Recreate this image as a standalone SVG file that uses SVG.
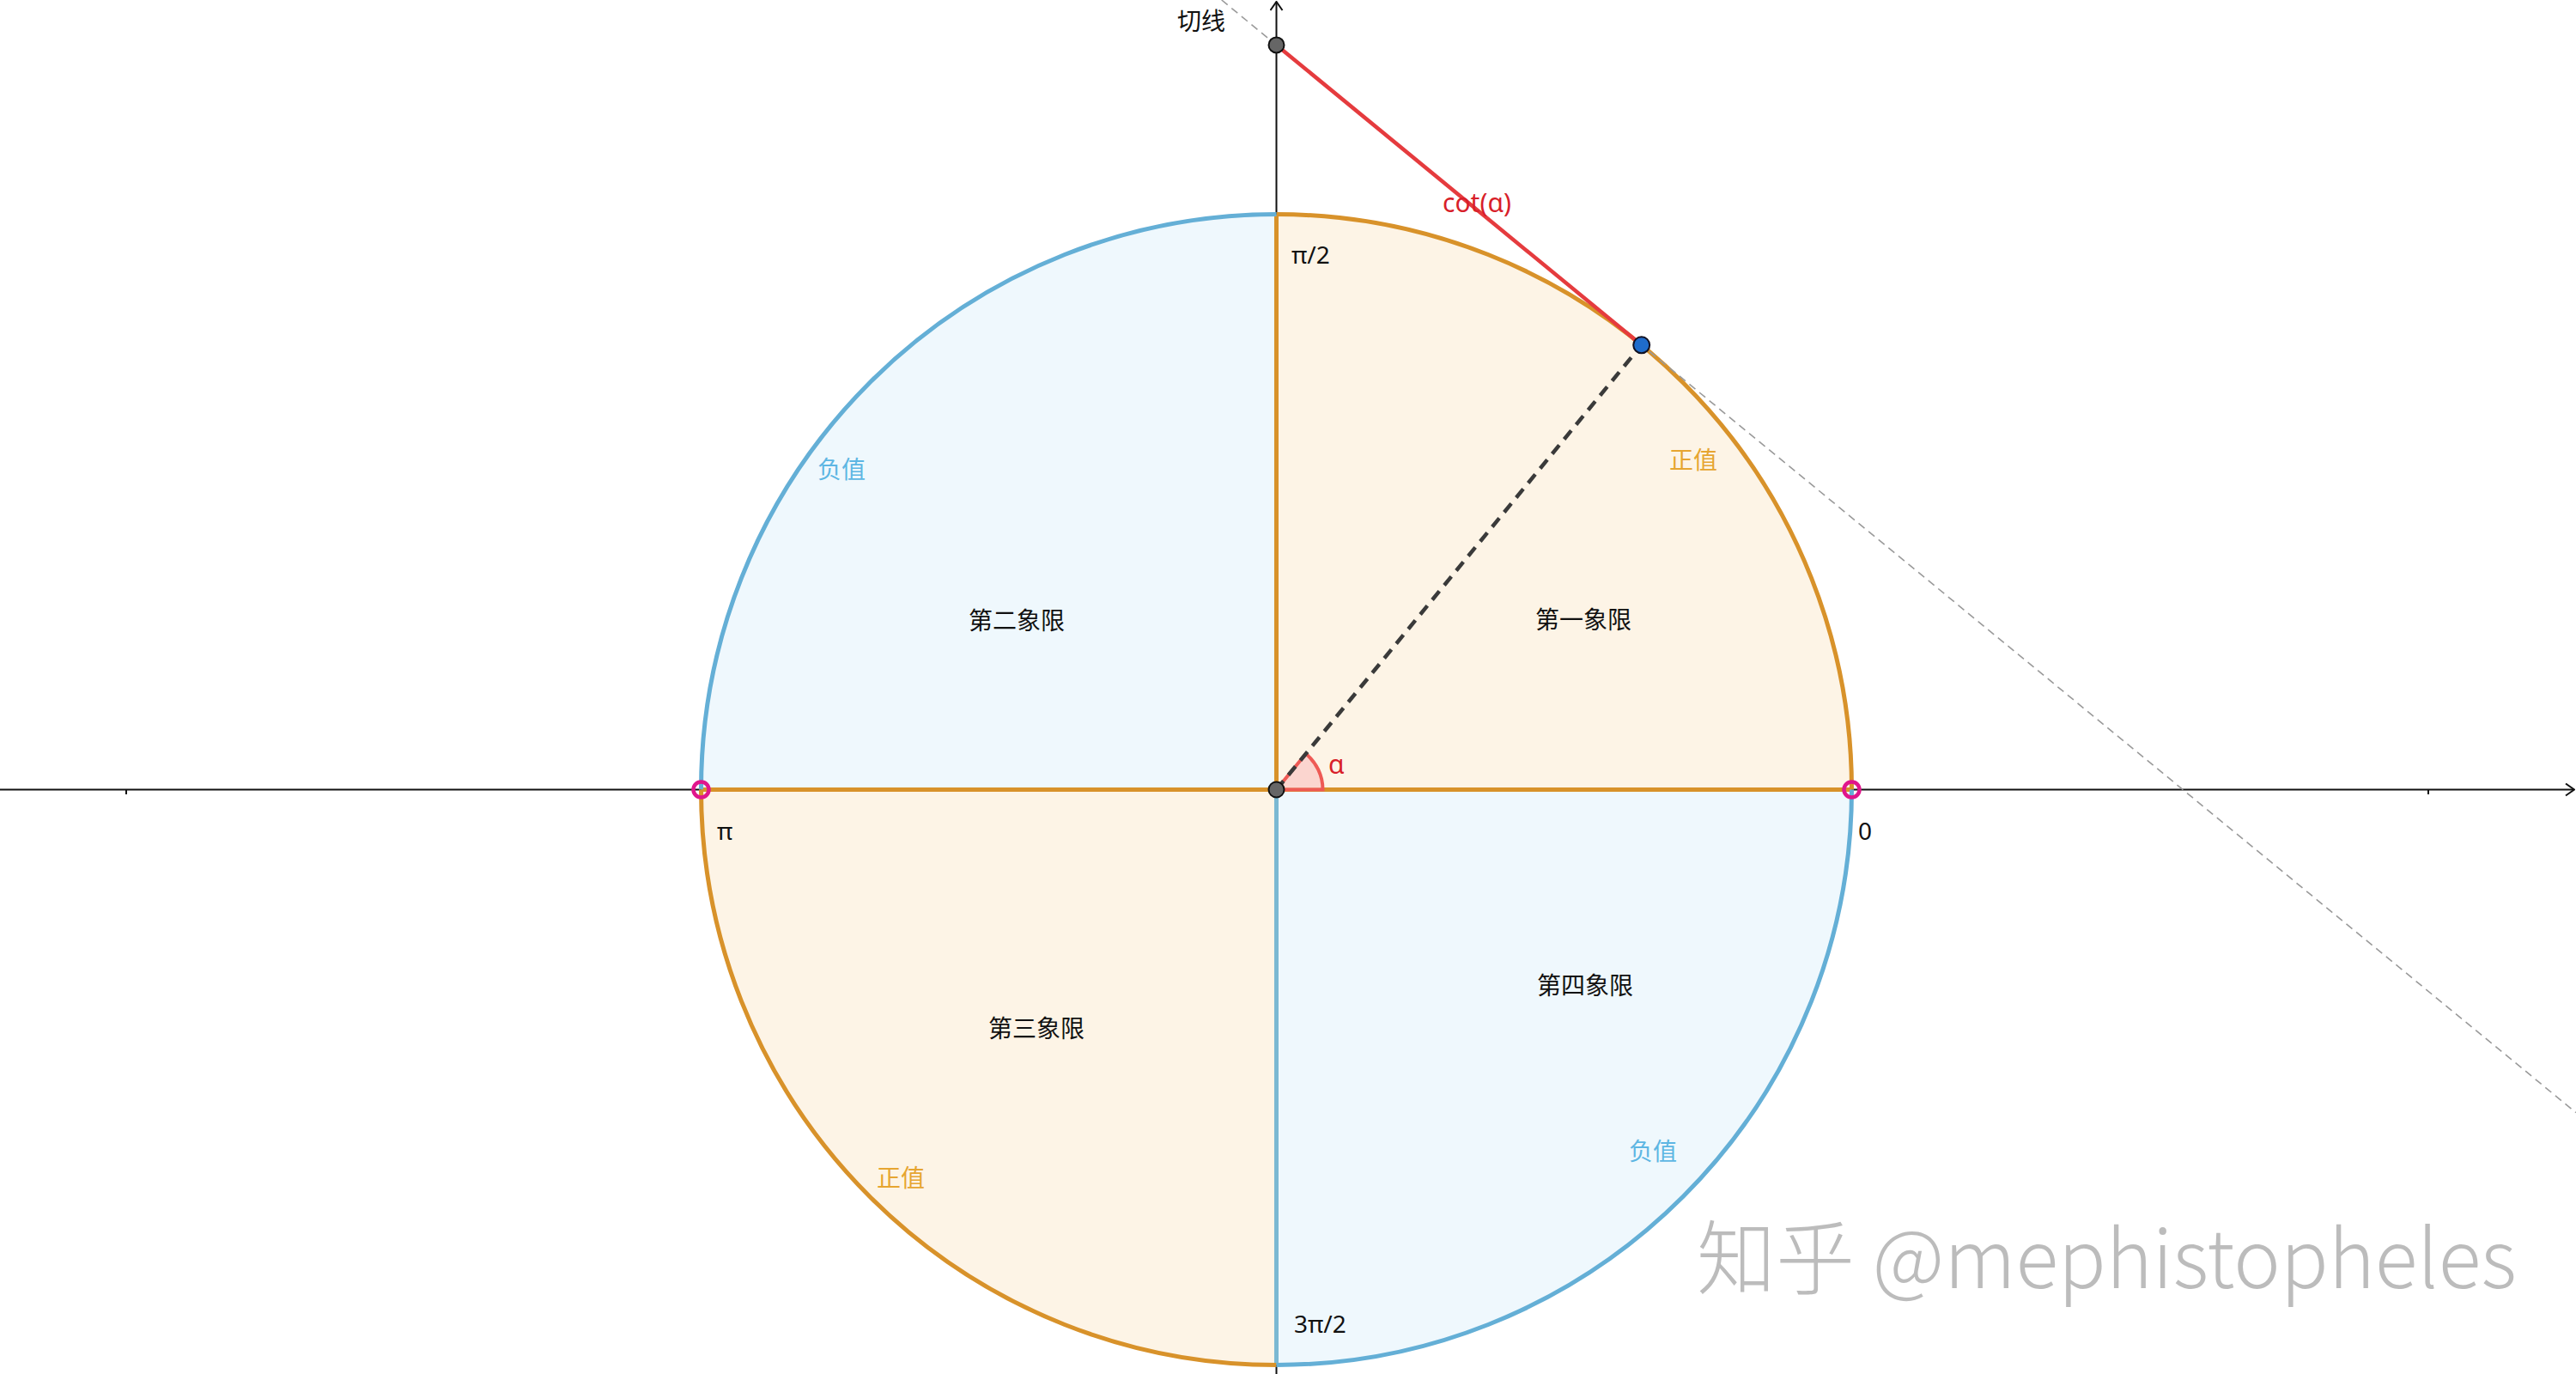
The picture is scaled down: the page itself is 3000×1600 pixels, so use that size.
<svg xmlns="http://www.w3.org/2000/svg" width="3000" height="1600" viewBox="0 0 3000 1600">
<style>
.axis{stroke:#111;stroke-width:2;fill:none}
.or{stroke:#d8922a;stroke-width:5;fill:none}
.bl{stroke:#64afd6;stroke-width:5;fill:none}
.blv{stroke:#7ab8d2;stroke-width:5;fill:none}
.t{font-family:"Noto Sans","Noto Sans CJK SC",sans-serif;font-size:28px;fill:#111}
.c{font-family:"Noto Sans CJK SC","Noto Sans",sans-serif;font-size:28px;fill:#111;text-anchor:middle}
.pos{fill:#e6a531}
.neg{fill:#5db6e3}
.ring{fill:none;stroke:#e0168c;stroke-width:4.5}
</style>
<defs>
<marker id="arr" viewBox="0 0 12 16" refX="11" refY="8" markerWidth="12" markerHeight="16" markerUnits="userSpaceOnUse" orient="auto">
<path d="M1,1 L11,8 L1,15" fill="none" stroke="#111" stroke-width="2"/>
</marker>
</defs>
<rect width="3000" height="1600" fill="#fff"/>
<g id="quadrants">
<path id="q1" d="M1486.5,919.5 L2156.5,919.5 A670,670 0 0 0 1486.5,249.5 Z" fill="#fdf4e6"/>
<path id="q2" d="M1486.5,919.5 L1486.5,249.5 A670,670 0 0 0 816.5,919.5 Z" fill="#eff8fd"/>
<path id="q3" d="M1486.5,919.5 L816.5,919.5 A670,670 0 0 0 1486.5,1589.5 Z" fill="#fdf4e6"/>
<path id="q4" d="M1486.5,919.5 L1486.5,1589.5 A670,670 0 0 0 2156.5,919.5 Z" fill="#eff8fd"/>
</g>
<g id="axes">
<line class="axis" x1="0" y1="919.5" x2="2998" y2="919.5" marker-end="url(#arr)"/>
<line class="axis" x1="1486.5" y1="1600" x2="1486.5" y2="2" marker-end="url(#arr)"/>
<line class="axis" x1="147" y1="919.5" x2="147" y2="925"/>
<line class="axis" x1="2828" y1="919.5" x2="2828" y2="925"/>
</g>
<g id="connectors">
<line class="or" x1="816.5" y1="919.5" x2="2156.5" y2="919.5"/>
<line class="or" x1="1486.5" y1="919.5" x2="1486.5" y2="249.5"/>
<line class="blv" x1="1486.5" y1="919.5" x2="1486.5" y2="1589.5"/>
<path class="or" d="M2156.5,919.5 A670,670 0 0 0 1486.5,249.5"/>
<path class="bl" d="M1486.5,249.5 A670,670 0 0 0 816.5,919.5"/>
<path class="or" d="M816.5,919.5 A670,670 0 0 0 1486.5,1589.5"/>
<path class="bl" d="M1486.5,1589.5 A670,670 0 0 0 2156.5,919.5"/>
<line id="tangent" x1="1422.7" y1="0" x2="3000" y2="1295.6" stroke="#9a9a9a" stroke-width="1.6" stroke-dasharray="9,6"/>
<line id="cot" x1="1486.5" y1="52.4" x2="1911.7" y2="401.8" stroke="#e53b3e" stroke-width="4.5"/>
<path id="angle" d="M1486.5,919.5 L1540.5,919.5 A54,54 0 0 0 1520.8,877.8 Z" fill="#f9c8c4" fill-opacity="0.7" stroke="#ee5a55" stroke-width="4"/>
<line id="radius" x1="1486.5" y1="919.5" x2="1911.7" y2="401.8" stroke="#3a3a3a" stroke-width="4.5" stroke-dasharray="13,9"/>
</g>
<g id="points">
<circle id="O" cx="1486.5" cy="919.5" r="9" fill="#666" stroke="#111" stroke-width="2"/>
<circle id="C" cx="1486.5" cy="52.4" r="9" fill="#666" stroke="#111" stroke-width="2"/>
<circle id="P" cx="1911.7" cy="401.8" r="9.5" fill="#1f6ccb" stroke="#112" stroke-width="2"/>
<circle id="A" class="ring" cx="816.5" cy="919.5" r="9"/>
<circle id="B" class="ring" cx="2156.5" cy="919.5" r="9"/>
</g>
<g id="labels">
<text class="c" x="1844" y="732">第一象限</text>
<text class="c" x="1184" y="733">第二象限</text>
<text class="c" x="1207" y="1208">第三象限</text>
<text class="c" x="1846" y="1158">第四象限</text>
<text class="c pos" x="1972" y="546">正值</text>
<text class="c neg" x="980" y="557">负值</text>
<text class="c pos" x="1049" y="1382">正值</text>
<text class="c neg" x="1925" y="1351">负值</text>
<text class="c" x="1399" y="35">切线</text>
<text class="t" x="1504" y="307">π/2</text>
<text class="t" x="835" y="978">π</text>
<text class="t" x="2164" y="978">0</text>
<text class="t" x="1507" y="1552">3π/2</text>
<text class="t" x="1680" y="247" style="fill:#d81f2a;font-size:30px">cot(α)</text>
<text class="t" x="1547" y="901" style="fill:#d81f2a;font-size:30px">α</text>
</g>
<g id="watermark" font-family="Noto Sans CJK SC,Noto Sans,sans-serif" font-size="94" font-weight="300">
<text x="1973" y="1499" fill="#ffffff" textLength="955" lengthAdjust="spacingAndGlyphs">知乎 @mephistopheles</text>
<text x="1976" y="1500" fill="#b5b5b5" fill-opacity="0.9" textLength="955" lengthAdjust="spacingAndGlyphs">知乎 @mephistopheles</text>
</g>
</svg>
